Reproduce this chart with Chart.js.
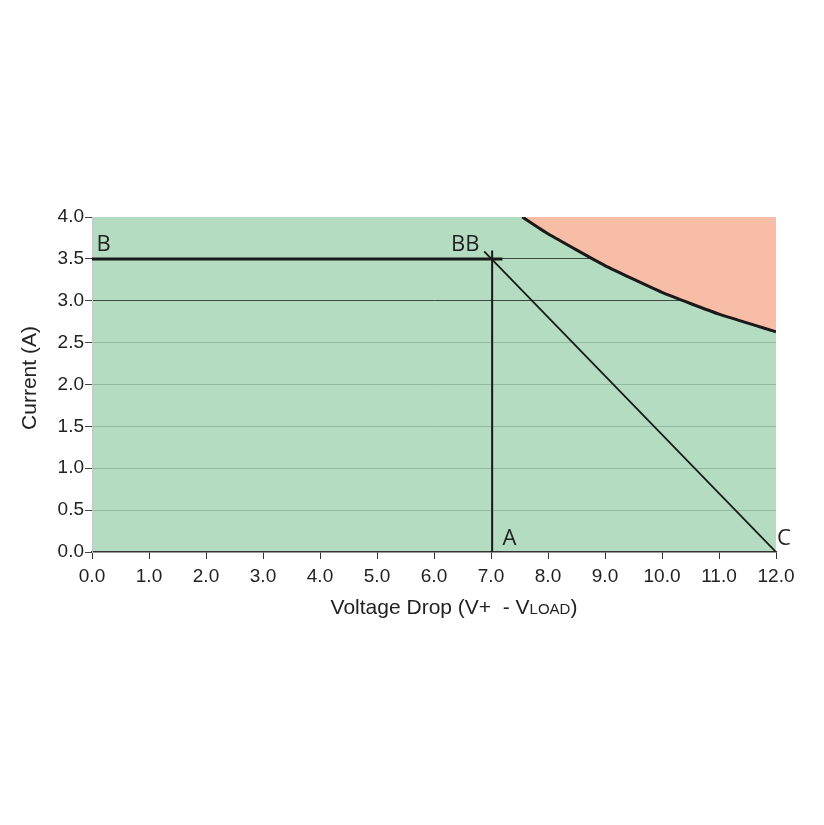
<!DOCTYPE html>
<html>
<head>
<meta charset="utf-8">
<script src="https://cdn.jsdelivr.net/npm/chart.js@4"></script>
<style>
  html, body { margin: 0; padding: 0; background: #fff; }
  #wrap { width: 824px; height: 825px; }
</style>
</head>
<body>
<div id="wrap"><canvas id="opChart" width="824" height="825"></canvas></div>
<script>
// x ticks and y ticks
var xTicks = [0,1,2,3,4,5,6,7,8,9,10,11,12];
var yTicks = [0,0.5,1,1.5,2,2.5,3,3.5,4];

// max power boundary (red region above it)
var limitV = [7.55, 8.0, 9.0, 10.0, 11.0, 12.0];
var limitI = [4.0, 3.8, 3.42, 3.1, 2.84, 2.63];

// operating lines
var lineB_V = [0, 7.2];      var lineB_I = [3.5, 3.5];
var lineA_V = [7.02, 7.02];  var lineA_I = [0, 3.6];
var lineC_V = [6.88, 12.0];  var lineC_I = [3.59, 0];

// point labels
var labelText = ["B", "BB", "A", "C"];
var labelV = [0.08, 6.3, 7.2, 12.0];
var labelI = [3.6, 3.6, 0.08, 0.08];

function pts(xs, ys) {
  return xs.map(function(x, i){ return {x: x, y: ys[i]}; });
}

var greenBg = {
  id: 'greenBg',
  beforeDraw: function(chart) {
    var a = chart.chartArea, c = chart.ctx;
    c.save();
    c.fillStyle = '#b4dcc1';
    c.fillRect(a.left, a.top, a.right - a.left, a.bottom - a.top);
    c.restore();
  }
};

var extras = {
  id: 'extras',
  afterDraw: function(chart) {
    var c = chart.ctx, xs = chart.scales.x, ys = chart.scales.y;
    c.save();
    c.fillStyle = '#222';
    c.font = '22px "Open Sans", "DejaVu Sans", sans-serif';
    c.textBaseline = 'alphabetic';
    for (var i = 0; i < labelText.length; i++) {
      c.textAlign = 'left';
      c.fillText(labelText[i], xs.getPixelForValue(labelV[i]) + (i == 3 ? 1 : 0), ys.getPixelForValue(labelI[i]));
    }
    // y axis title
    c.fillStyle = '#222';
    c.font = '21px "Liberation Sans", Arial, sans-serif';
    c.translate(30, 378);
    c.rotate(-Math.PI / 2);
    c.textAlign = 'center';
    c.textBaseline = 'middle';
    c.fillText('Current (A)', 0, 0);
    c.setTransform(1, 0, 0, 1, 0, 0);
    // x axis title with small-caps LOAD
    var p1 = 'Voltage Drop (V+  - V', p2 = 'LOAD', p3 = ')';
    c.textAlign = 'left';
    c.textBaseline = 'alphabetic';
    c.font = '21px "Liberation Sans", Arial, sans-serif';
    var w1 = c.measureText(p1).width, w3 = c.measureText(p3).width;
    c.font = '15px "Liberation Sans", Arial, sans-serif';
    var w2 = c.measureText(p2).width;
    var x0 = 454 - (w1 + w2 + w3) / 2, yb = 614;
    c.font = '21px "Liberation Sans", Arial, sans-serif';
    c.fillText(p1, x0, yb);
    c.font = '15px "Liberation Sans", Arial, sans-serif';
    c.fillText(p2, x0 + w1, yb);
    c.font = '21px "Liberation Sans", Arial, sans-serif';
    c.fillText(p3, x0 + w1 + w2, yb);
    c.restore();
  }
};

var ctx = document.getElementById('opChart').getContext('2d');
var chart = new Chart(ctx, {
  type: 'scatter',
  data: {
    datasets: [
      { data: pts(limitV, limitI), showLine: true, fill: 'end',
        backgroundColor: '#f8bda6', borderColor: '#1a1a1a', borderWidth: 3,
        pointRadius: 0, tension: 0.15 },
      { data: pts(lineB_V, lineB_I), showLine: true, borderColor: '#1a1a1a',
        borderWidth: 3, pointRadius: 0 },
      { data: pts(lineA_V, lineA_I), showLine: true, borderColor: '#1a1a1a',
        borderWidth: 2, pointRadius: 0 },
      { data: pts(lineC_V, lineC_I), showLine: true, borderColor: '#1a1a1a',
        borderWidth: 1.8, pointRadius: 0 }
    ]
  },
  options: {
    responsive: false,
    animation: false,
    layout: { padding: { top: 217, right: 48, bottom: 203, left: 0 } },
    plugins: { legend: { display: false }, tooltip: { enabled: false } },
    scales: {
      x: {
        type: 'linear', min: 0, max: 12,
        afterBuildTicks: function(s){ s.ticks = xTicks.map(function(v){ return {value: v}; }); },
        afterFit: function(s){ s.height = 70; },
        grid: { drawOnChartArea: false, tickLength: 7, color: '#333', tickColor: '#333' },
        border: { color: '#333', width: 1.5 },
        ticks: { color: '#222', padding: 6,
          font: { family: '"Liberation Sans", Arial, sans-serif', size: 19 },
          callback: function(v){ return v.toFixed(1); } }
      },
      y: {
        type: 'linear', min: 0, max: 4,
        afterBuildTicks: function(s){ s.ticks = yTicks.map(function(v){ return {value: v}; }); },
        afterFit: function(s){ s.width = 92; },
        grid: { tickLength: 7, lineWidth: 1,
          color: function(c){ var v = c.tick.value;
            if (v === 3 || v === 3.5) return '#3a4a3f';
            if (v === 4 || v === 0) return 'rgba(0,0,0,0)';
            return '#93b9a0'; },
          tickColor: '#444' },
        border: { color: '#c8c8c8', width: 1 },
        ticks: { color: '#222', padding: 1,
          font: { family: '"Liberation Sans", Arial, sans-serif', size: 19 },
          callback: function(v){ return v.toFixed(1); } }
      }
    }
  },
  plugins: [greenBg, extras]
});
</script>
</body>
</html>
